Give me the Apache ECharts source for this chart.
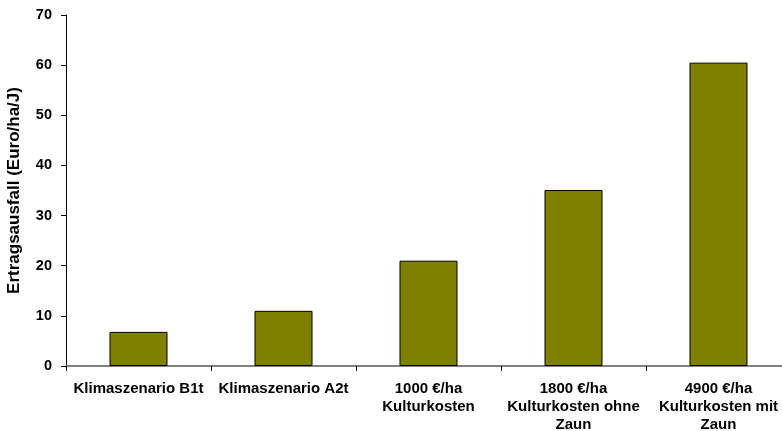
<!DOCTYPE html>
<html><head><meta charset="utf-8">
<script src="https://cdn.jsdelivr.net/npm/echarts@6/dist/echarts.min.js"></script>
<style>html,body{margin:0;padding:0;background:#fff}#c{width:782px;height:431px}</style>
</head><body><div id="c"></div>
<script>
const categories = ['Klimaszenario B1t', 'Klimaszenario A2t', '1000 €/ha\nKulturkosten', '1800 €/ha\nKulturkosten ohne\nZaun', '4900 €/ha\nKulturkosten mit\nZaun'];
const values = [6.8, 11.0, 21.0, 35.1, 60.5];
const yTicks = { min: 0, max: 70, interval: 10 };
const yName = 'Ertragsausfall (Euro/ha/J)';

const chart = echarts.init(document.getElementById('c'));
chart.setOption({
  animation: false,
  grid: { left: 66, right: -9, top: 15, bottom: 65, containLabel: false, outerBoundsMode: 'none' },
  xAxis: {
    type: 'category', data: categories,
    axisLine: { lineStyle: { color: '#808080', width: 2 } },
    axisTick: { show: true, alignWithLabel: false, length: 5, lineStyle: { color: '#000' } },
    axisLabel: { interval: 0, color: '#000', fontFamily: 'Liberation Sans', fontWeight: 'bold', fontSize: 15, lineHeight: 18, margin: 14 }
  },
  yAxis: {
    type: 'value', min: yTicks.min, max: yTicks.max, interval: yTicks.interval,
    name: yName, nameLocation: 'middle', nameGap: 43,
    nameTextStyle: { color: '#000', fontFamily: 'Liberation Sans', fontWeight: 'bold', fontSize: 17 },
    axisLine: { show: true, lineStyle: { color: '#000', width: 1 } },
    axisTick: { show: true, length: 5, lineStyle: { color: '#000' } },
    axisLabel: { color: '#000', fontFamily: 'Liberation Sans', fontWeight: 'bold', fontSize: 14.5, margin: 14 },
    splitLine: { show: false }
  },
  series: [{
    type: 'bar', data: values, barWidth: '40%',
    itemStyle: { color: '#808000', borderColor: '#000', borderWidth: 1 }
  }]
});
</script></body></html>
